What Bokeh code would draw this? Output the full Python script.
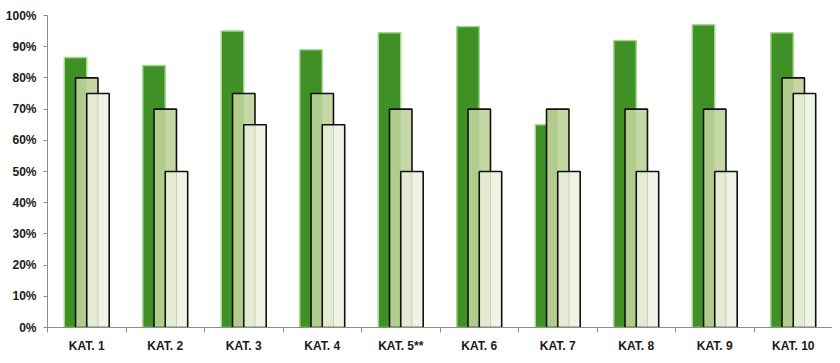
import numpy as np
from bokeh.plotting import figure
from bokeh.models import Range1d, FixedTicker, PrintfTickFormatter
from bokeh.embed import file_html
from bokeh.resources import INLINE

categories = ["KAT. 1", "KAT. 2", "KAT. 3", "KAT. 4", "KAT. 5**",
              "KAT. 6", "KAT. 7", "KAT. 8", "KAT. 9", "KAT. 10"]
series_a = [86.5, 84, 95, 89, 94.5, 96.5, 65, 92, 97, 94.5]
series_b = [80, 70, 75, 75, 70, 70, 70, 70, 70, 80]
series_c = [75, 50, 65, 65, 50, 50, 50, 50, 50, 75]
y_ticks = list(range(0, 101, 10))

n = len(categories)
centers = np.arange(n) + 0.5
bounds = list(np.arange(n + 1).astype(float))
bw = 0.286
off = bw / 2

p = figure(width=832, height=355, x_range=Range1d(0, n), y_range=Range1d(0, 100),
           output_backend="svg", toolbar_location=None,
           min_border_left=47, min_border_right=0, min_border_top=15, min_border_bottom=20)
p.outline_line_color = None
p.xgrid.visible = False
p.ygrid.visible = False
p.background_fill_color = "white"
p.border_fill_color = "white"

# series A (dark green)
xa = centers - off
p.vbar(x=xa, top=series_a, width=bw, bottom=0, fill_color="#3f9126",
       line_color="#a6d68c", line_width=1.5)

# series B (light green)
xb = centers
p.vbar(x=xb, top=series_b, width=bw, bottom=0, fill_color="#b2cc8d", line_color=None)
p.vbar(x=xb + bw / 4, top=series_b, width=bw / 2, bottom=0, fill_color="#c4d7a5", line_color=None)
p.vbar(x=xb, top=series_b, width=bw, bottom=0, fill_color=None, line_color="#111111", line_width=1.6)

# series C (very light)
xc = centers + off
p.vbar(x=xc, top=series_c, width=bw, bottom=0, fill_color="#e4ebd3", line_color=None)
p.vbar(x=xc + bw / 4, top=series_c, width=bw / 2, bottom=0, fill_color="#eff4e4", line_color=None)
p.segment(x0=xc, y0=[0] * n, x1=xc, y1=series_c, line_color="#c9cfb9", line_width=1)
p.vbar(x=xc, top=series_c, width=bw, bottom=0, fill_color=None, line_color="#111111", line_width=1.6)

# y axis
ya = p.yaxis[0]
ya.ticker = FixedTicker(ticks=y_ticks)
ya.formatter = PrintfTickFormatter(format="%d%%")
ya.axis_line_color = "#8c8c8c"
ya.major_tick_line_color = "#8c8c8c"
ya.major_tick_out = 4
ya.major_tick_in = 0
ya.minor_tick_line_color = None
ya.major_label_standoff = 7
ya.major_label_text_font = "Liberation Sans"
ya.major_label_text_font_style = "bold"
ya.major_label_text_font_size = "12px"
ya.major_label_text_color = "#1a1a1a"

# x axis
xa_ax = p.xaxis[0]
xa_ax.ticker = FixedTicker(ticks=list(centers), minor_ticks=bounds)
xa_ax.major_label_overrides = {float(c): lab for c, lab in zip(centers, categories)}
xa_ax.axis_line_color = "#8c8c8c"
xa_ax.major_tick_line_color = None
xa_ax.major_tick_out = 0
xa_ax.major_tick_in = 0
xa_ax.minor_tick_line_color = "#8c8c8c"
xa_ax.minor_tick_out = 5
xa_ax.minor_tick_in = 0
xa_ax.major_label_standoff = 6
xa_ax.major_label_text_font = "Liberation Sans"
xa_ax.major_label_text_font_style = "bold"
xa_ax.major_label_text_font_size = "12px"
xa_ax.major_label_text_color = "#1a1a1a"

open("out.html", "w").write(file_html(p, INLINE))
